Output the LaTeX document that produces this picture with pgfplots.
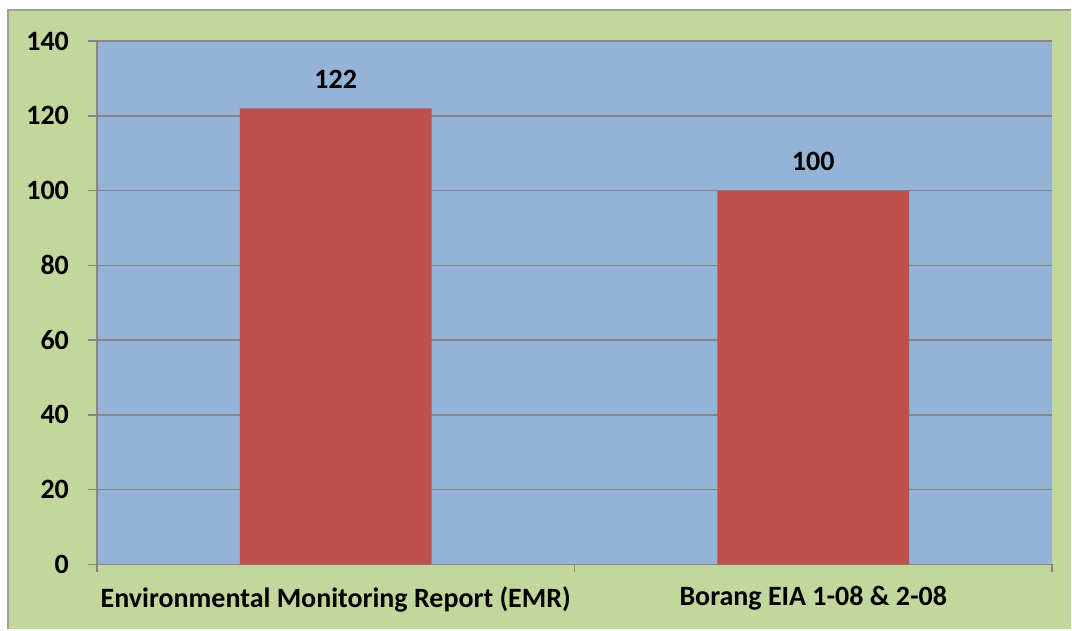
\documentclass[border=0pt]{standalone}
\usepackage{pgfplots}
\pgfplotsset{compat=1.18}
\usepackage{fontspec}
\setmainfont{Carlito}

\definecolor{outergreen}{HTML}{C3D69B}
\definecolor{plotblue}{HTML}{95B3D7}
\definecolor{barred}{HTML}{C0504D}
\definecolor{gridgray}{HTML}{868686}

\newcommand{\lblfont}{\fontsize{14}{16}\selectfont\bfseries}

\begin{document}
\begin{tikzpicture}
% page background: white margin, green chart area with grey frame on top/left
\fill[white] (-48.5pt,-32.5pt) rectangle (487.5pt,282.5pt);
\fill[outergreen] (-44.5pt,-32.5pt) rectangle (487.5pt,277.5pt);
\draw[gridgray!80, line width=1pt] (-44.5pt,-32.5pt) -- (-44.5pt,277.5pt) -- (487.5pt,277.5pt);

\begin{axis}[
    scale only axis,
    width=478pt, height=262pt,
    ybar, bar width=96pt,
    xmin=-0.5, xmax=1.5,
    ymin=0, ymax=140,
    ytick={0,20,...,140},
    yticklabel={\lblfont\pgfmathprintnumber{\tick}},
    xtick={0,1},
    xticklabels={Environmental Monitoring Report (EMR), Borang EIA 1-08 \& 2-08},
    minor xtick={-0.5,0.5,1.5},
    major x tick style={draw=none},
    tick align=outside,
    major tick length=4.5pt,
    minor tick length=4pt,
    tick style={gridgray, line width=0.8pt},
    axis x line*=bottom, axis y line*=left,
    axis line style={gridgray, line width=0.8pt, -},
    axis background/.style={fill=plotblue},
    ymajorgrids,
    major grid style={gridgray, line width=0.8pt},
    /pgf/number format/assume math mode=true,
    ticklabel style={font=\lblfont},
    yticklabel style={xshift=-6pt},
    xticklabel style={yshift=-3pt},
    nodes near coords={\raisebox{6.5pt}{\lblfont\pgfmathprintnumber{\pgfplotspointmeta}}},
    clip=false,
]
\addplot[fill=barred, draw=none] coordinates {(0,122) (1,100)};
\end{axis}
\end{tikzpicture}
\end{document}
